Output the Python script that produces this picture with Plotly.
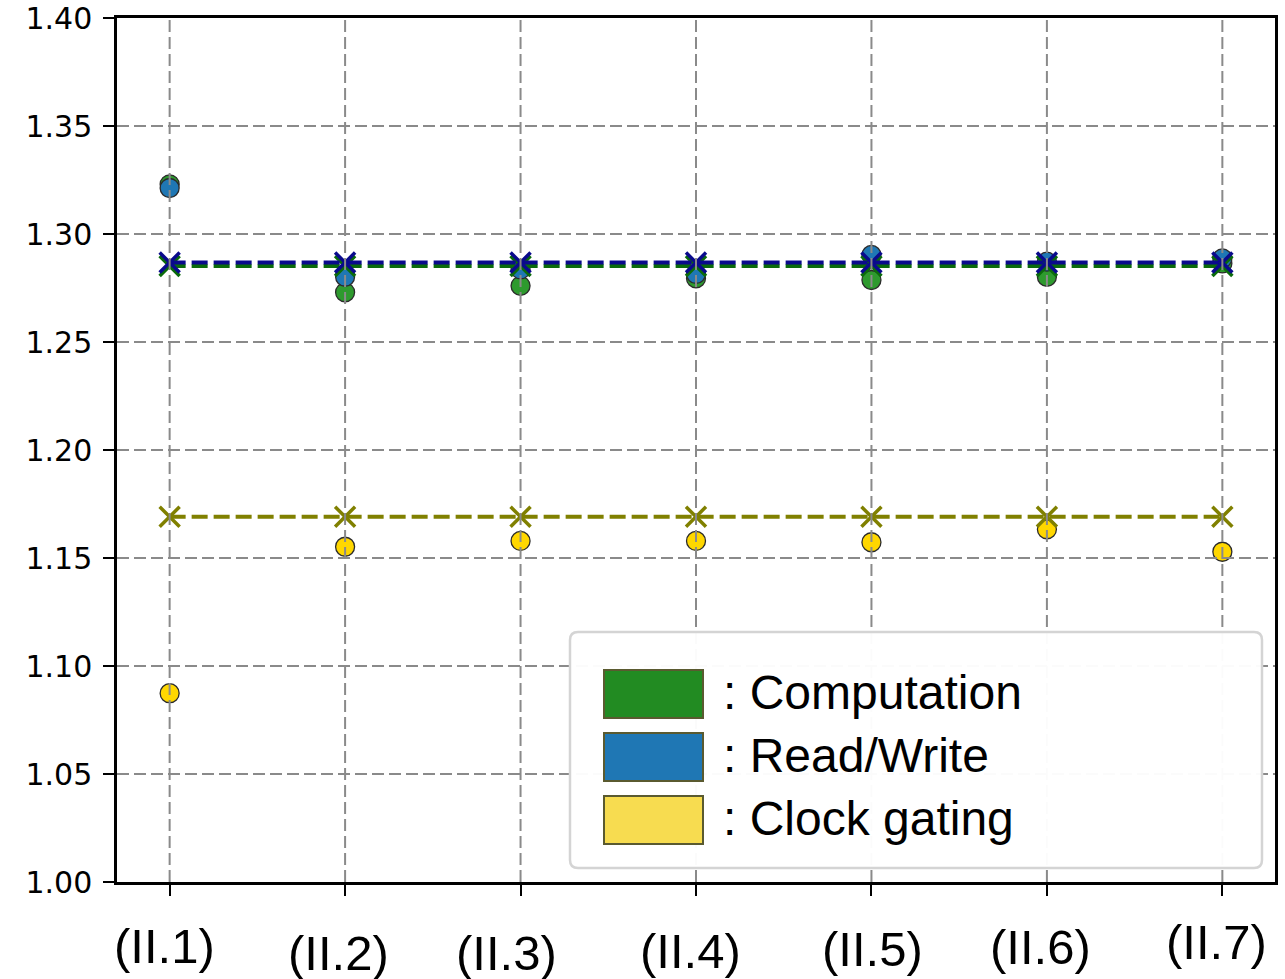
import plotly.graph_objects as go

# ---------------- data ----------------
categories = ["(II.1)", "(II.2)", "(II.3)", "(II.4)", "(II.5)", "(II.6)", "(II.7)"]
computation = [1.323, 1.273, 1.276, 1.2795, 1.2787, 1.2802, 1.2864]
read_write = [1.3213, 1.2802, 1.2836, 1.2815, 1.2903, 1.2872, 1.2887]
clock_gating = [1.0874, 1.1552, 1.1579, 1.1579, 1.1573, 1.1633, 1.1529]
computation_ref = [1.2852] * 7
read_write_ref = [1.2868] * 7
clock_gating_ref = [1.1691] * 7
y_ticks = [1.00, 1.05, 1.10, 1.15, 1.20, 1.25, 1.30, 1.35, 1.40]
legend_labels = [": Computation", ": Read/Write", ": Clock gating"]

# ---------------- layout geometry (pixels) ----------------
W, H = 1285, 979
L, R, T, B = 117, 1275, 18, 882


def px_x(px):
    return (px - L) / (R - L)


def px_y(py):
    return (B - py) / (B - T)


# label offsets (style only)
label_dx = [-5, -7, -14, -6, 1, -6, -6]
label_cy = [946, 953, 953, 951, 949, 947, 942]

fig = go.Figure()

mk_line = dict(color="#2b2b2b", width=1.3)
fig.add_trace(go.Scatter(x=categories, y=computation, mode="markers",
                         marker=dict(size=19, color="#2e9a2e", line=mk_line)))
fig.add_trace(go.Scatter(x=categories, y=read_write, mode="markers",
                         marker=dict(size=19, color="#1f77b4", line=mk_line)))
fig.add_trace(go.Scatter(x=categories, y=clock_gating, mode="markers",
                         marker=dict(size=19, color="#ffd700", line=mk_line)))

for vals, col in [(computation_ref, "#0b6b0b"), (read_write_ref, "#0a0a8c"),
                  (clock_gating_ref, "#808000")]:
    fig.add_trace(go.Scatter(
        x=categories, y=vals, mode="lines+markers",
        line=dict(color=col, width=4, dash="16px,6px"),
        marker=dict(symbol="x-thin", size=20, color=col,
                    line=dict(color=col, width=3.5))))

shapes = []
grid = dict(color="#8a8a8a", width=2, dash="12px,5px")
for c in categories:
    shapes.append(dict(type="line", xref="x", yref="paper", x0=c, x1=c, y0=0, y1=1,
                       line=grid, layer="above"))
for v in y_ticks[1:-1]:
    shapes.append(dict(type="line", xref="paper", yref="y", x0=0, x1=1, y0=v, y1=v,
                       line=grid, layer="above"))

# legend frame (rounded)
lx0, lx1, ly0, ly1, rr = 570, 1262, 632, 868, 8


def pt(px, py):
    return f"{px_x(px):.5f},{px_y(py):.5f}"


path = (f"M {pt(lx0 + rr, ly0)} L {pt(lx1 - rr, ly0)} Q {pt(lx1, ly0)} {pt(lx1, ly0 + rr)} "
        f"L {pt(lx1, ly1 - rr)} Q {pt(lx1, ly1)} {pt(lx1 - rr, ly1)} "
        f"L {pt(lx0 + rr, ly1)} Q {pt(lx0, ly1)} {pt(lx0, ly1 - rr)} "
        f"L {pt(lx0, ly0 + rr)} Q {pt(lx0, ly0)} {pt(lx0 + rr, ly0)} Z")
shapes.append(dict(type="path", xref="paper", yref="paper", path=path,
                   fillcolor="rgba(255,255,255,0.97)",
                   line=dict(color="#d4d4d4", width=2.5), layer="above"))

patch_cols = ["#228b22", "#1f77b4", "#f7dc50"]
row_cy = [694, 757, 820]
annotations = []
for col, cy, lab in zip(patch_cols, row_cy, legend_labels):
    shapes.append(dict(type="rect", xref="paper", yref="paper",
                       x0=px_x(604), x1=px_x(703), y0=px_y(cy - 24), y1=px_y(cy + 24),
                       fillcolor=col, line=dict(color="#5a5a30", width=2), layer="above"))
    annotations.append(dict(xref="paper", yref="paper", x=px_x(721), y=px_y(cy - 2),
                            xanchor="left", yanchor="middle", showarrow=False, text=lab,
                            font=dict(family="Liberation Sans, Arial", size=48, color="black")))

for c, dx, cy in zip(categories, label_dx, label_cy):
    annotations.append(dict(xref="x", yref="paper", x=c, y=px_y(cy), xshift=dx,
                            xanchor="center", yanchor="middle", showarrow=False, text=c,
                            font=dict(family="Liberation Sans, Arial", size=49, color="black")))

fig.update_layout(
    width=W, height=H,
    margin=dict(l=L, r=W - R, t=T, b=H - B, pad=0, autoexpand=False),
    paper_bgcolor="white", plot_bgcolor="white",
    showlegend=False,
    shapes=shapes, annotations=annotations,
    xaxis=dict(type="category", categoryorder="array", categoryarray=categories,
               range=[-0.3, 6.3], showgrid=False, zeroline=False, automargin=False,
               showline=True, linecolor="black", linewidth=2.5, mirror=True,
               ticks="outside", ticklen=11, tickwidth=2, tickcolor="black",
               showticklabels=False),
    yaxis=dict(range=[1.0, 1.4], tickvals=y_ticks, tickformat=".2f",
               showgrid=False, zeroline=False, automargin=False,
               showline=True, linecolor="black", linewidth=2.5, mirror=True,
               ticks="outside", ticklen=11, tickwidth=2, tickcolor="black",
               ticklabelstandoff=5,
               tickfont=dict(family="DejaVu Sans", size=30, color="black")),
)

fig.write_html("out.html", config={"displayModeBar": False},
               post_script="document.body.style.margin='0px';document.body.style.overflow='hidden';")
